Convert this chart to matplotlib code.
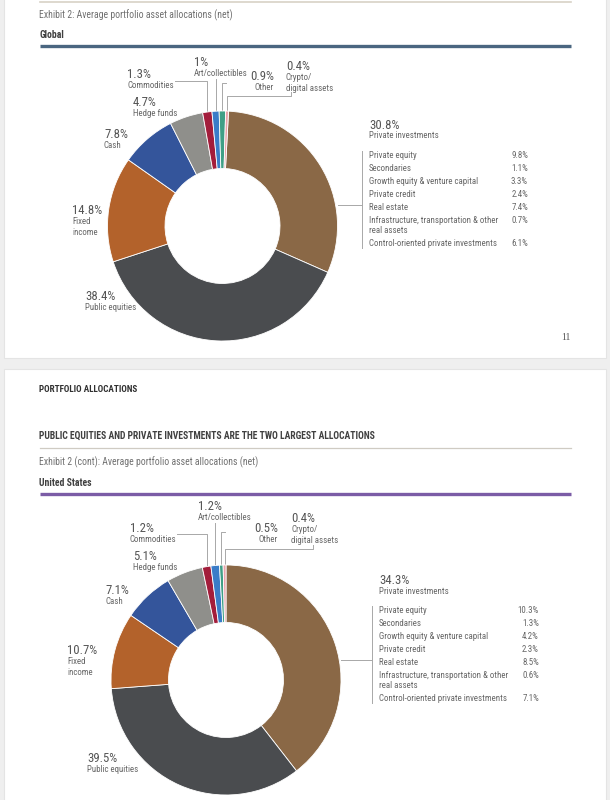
import matplotlib
matplotlib.use("Agg")
import matplotlib.pyplot as plt
from matplotlib import font_manager
from matplotlib.patches import Rectangle
import numpy as np

W, H = 610, 800

# pick a narrow sans if there is one
names = {f.name for f in font_manager.fontManager.ttflist}
if "Liberation Sans Narrow" in names:
    FONT = "Liberation Sans Narrow"
elif "Roboto Condensed" in names:
    FONT = "Roboto Condensed"
else:
    FONT = "Roboto"
plt.rcParams["font.family"] = [FONT, "DejaVu Sans"]

categories = ["Private investments", "Public equities", "Fixed\nincome", "Cash",
              "Hedge funds", "Commodities", "Art/collectibles", "Other",
              "Crypto/\ndigital assets"]
global_values = [30.8, 38.4, 14.8, 7.8, 4.7, 1.3, 1.0, 0.9, 0.4]
us_values = [34.3, 39.5, 10.7, 7.1, 5.1, 1.2, 1.2, 0.5, 0.4]

private_parts = ["Private equity", "Secondaries", "Growth equity & venture capital",
                 "Private credit", "Real estate",
                 "Infrastructure, transportation & other\nreal assets",
                 "Control-oriented private investments"]
global_private = [9.8, 1.1, 3.3, 2.4, 7.4, 0.7, 6.1]
us_private = [10.3, 1.3, 4.2, 2.3, 8.5, 0.6, 7.1]

colors = ["#8a6846", "#4a4c4f", "#b3622b", "#34559b", "#8f8f8b",
          "#a31d3b", "#3a7cc8", "#3f9f86", "#e8a2aa"]

NUM_C = "#555555"
TXT_C = "#666666"
LINE_C = "#a8a8a8"
SMALL = 6.4
BIG = 9.2

fig = plt.figure(figsize=(W / 100, H / 100), dpi=100)
fig.patch.set_facecolor("#efefef")
ax = fig.add_axes([0, 0, 1, 1])
ax.set_xlim(0, W)
ax.set_ylim(H, 0)
ax.axis("off")

# pages
ax.add_patch(Rectangle((4, -5), 602, 363, facecolor="white", edgecolor="#e4e4e4", lw=0.8))
ax.add_patch(Rectangle((4, 369), 602, 440, facecolor="white", edgecolor="#e4e4e4", lw=0.8))


def donut(cx, cy, r, values, start, order=None):
    a = fig.add_axes([(cx - r) / W, 1 - (cy + r) / H, 2 * r / W, 2 * r / H])
    vals = values if order is None else [values[i] for i in order]
    wedges, _ = a.pie(vals, colors=colors, startangle=start, counterclock=False,
                      radius=1, wedgeprops=dict(width=0.5, edgecolor="white", linewidth=0.6))
    a.set_xlim(-1, 1)
    a.set_ylim(-1, 1)
    pts = []
    for w in wedges:
        m = np.deg2rad((w.theta1 + w.theta2) / 2)
        pts.append((cx + r * np.cos(m), cy - r * np.sin(m)))
    return pts


def label(x, y, pct, name, ha="left"):
    ax.text(x, y, pct, fontsize=BIG, color=NUM_C, ha=ha, va="center")
    ax.text(x, y + 6.5, name, fontsize=SMALL, color=TXT_C, ha=ha, va="top", linespacing=1.15)


def fmt(v):
    return f"{v:g}%"


def chart(cx, cy, r, values, start, pos, tops, panel, private, order=None):
    pts = donut(cx, cy, r, values, start, order)
    if order is not None:
        # leader anchors follow the drawn wedges
        pts = [pts[order.index(i)] for i in range(len(values))]
    for i in range(1, len(values)):
        x, y = pos[i]
        label(x, y, fmt(values[i]), categories[i], ha="right" if i == 7 else "left")
    # leader lines for the thin slices at the top
    px, py = pts[5]
    ax.plot([px, px, tops[0][1]], [py, tops[0][0], tops[0][0]], color=LINE_C, lw=0.7)
    px, py = pts[6]
    ax.plot([px, px], [py, tops[1]], color=LINE_C, lw=0.7)
    px, py = pts[7]
    ax.plot([px, px, px + 4], [py, tops[2], tops[2]], color=LINE_C, lw=0.7)
    px, py = pts[8]
    ax.plot([px, px, tops[3][1], tops[3][1]], [py, tops[3][0], tops[3][0], tops[3][0] - 4],
            color=LINE_C, lw=0.7)
    # private investments breakdown
    bx, ly, y0, vx = panel
    ex = cx + np.sqrt(r ** 2 - (ly - cy) ** 2) + 2
    ax.plot([ex, bx], [ly, ly], color=LINE_C, lw=0.7)
    ax.text(bx + 7, y0 - 30, fmt(values[0]), fontsize=BIG, color=NUM_C, va="center")
    ax.text(bx + 7, y0 - 24.5, categories[0], fontsize=SMALL, color=TXT_C, va="top")
    y = y0
    for name, v in zip(private_parts, private):
        ax.text(bx + 7, y - 5, name, fontsize=SMALL, color=TXT_C, va="top", linespacing=1.12)
        ax.text(vx, y - 5, fmt(v), fontsize=SMALL, color=TXT_C, va="top", ha="right")
        y += 13 + 10 * name.count("\n")
    ax.plot([bx, bx], [y0 - 5, y - 9], color=LINE_C, lw=0.7)


# ---- page 11: global ----
ax.plot([40, 571], [1.5, 1.5], color="#d8d2c6", lw=1.2)
ax.text(39, 15, "Exhibit 2: Average portfolio asset allocations (net)", fontsize=7,
        color="#707070", va="center")
ax.text(39, 34.5, "Global", fontsize=7, color="#404040", va="center", fontweight="bold")
ax.plot([40, 571], [45.7, 45.7], color="#4a6680", lw=2.4, solid_capstyle="butt")

g_pos = [None, (85, 297), (72, 211), (104, 134), (133, 103), (127, 75),
         (194, 62), (274, 77), (286, 67)]
chart(222.5, 226, 115, global_values, 87, g_pos,
      [(81, 175), 79, 83, (96, 291)], (362, 205, 155.7, 528), global_private)

ax.text(566, 337, "11", fontsize=7, color="#555555", ha="center", va="center",
        family="Liberation Serif")

# ---- page 12: united states ----
ax.text(39, 390, "PORTFOLIO ALLOCATIONS", fontsize=6.6, color="#303030",
        va="center", fontweight="bold")
ax.text(39, 436, "PUBLIC EQUITIES AND PRIVATE INVESTMENTS ARE THE TWO LARGEST ALLOCATIONS",
        fontsize=6.9, color="#404040", va="center", fontweight="bold")
ax.plot([40, 571], [448, 448], color="#cfcbc3", lw=0.9)
ax.text(39, 462, "Exhibit 2 (cont): Average portfolio asset allocations (net)", fontsize=7,
        color="#707070", va="center")
ax.text(39, 483, "United States", fontsize=7, color="#404040", va="center", fontweight="bold")
ax.plot([40, 571], [494, 494], color="#7b5ca6", lw=2.4, solid_capstyle="butt")

u_pos = [None, (87, 758), (67, 651), (105, 590), (133, 557), (130, 528),
         (198, 506), (278, 529), (291, 519)]
# the source draws the 39.5% wedge in the brown and the 34.3% wedge in dark grey
chart(226, 680, 115, us_values, 90, u_pos,
      [(534, 177), 523, 532, (549, 313)], (372, 660, 611, 539), us_private,
      order=[1, 0, 2, 3, 4, 5, 6, 7, 8])

fig.savefig("out.png", dpi=100, facecolor=fig.get_facecolor())
